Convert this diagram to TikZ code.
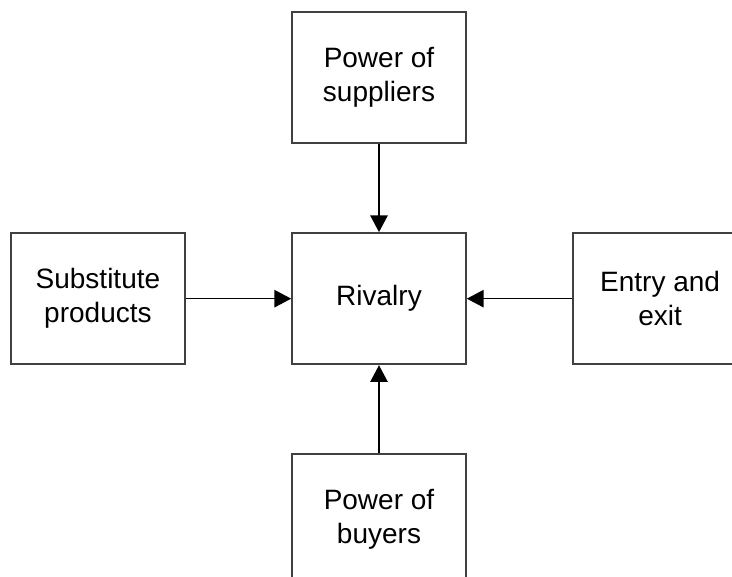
\documentclass[tikz,border=0pt]{standalone}
\usepackage{fontspec}
\setmainfont{Liberation Sans}
\usetikzlibrary{positioning, arrows.meta}

\tikzset{
  force/.style={rectangle, draw=black!75, line width=1.3pt, minimum width=130.5pt,
    minimum height=98.5pt, align=center, font=\fontsize{21}{25.5}\selectfont},
  push/.style={-{Triangle[length=12.5pt,width=13pt]}, line width=1pt}
}

\begin{document}
\begin{tikzpicture}[node distance=66pt and 79pt]
  \useasboundingbox (0,0) rectangle (549pt,432pt);

  \node[force] (rivalry) at (284.25pt,208pt) {Rivalry};
  \node[force, above=of rivalry] (suppliers node) {Power of\\suppliers};
  \node[force, below=of rivalry] (buyers node) {Power of\\buyers};
  \node[force, left=of rivalry] (substitutes node) {Substitute\\products};
  \node[force, right=of rivalry] (entry node) {Entry and\\exit};

  \draw[push] (suppliers node) -- (rivalry);
  \draw[push] (buyers node) -- (rivalry);
  \draw[push] (substitutes node) -- (rivalry);
  \draw[push] (entry node) -- (rivalry);

\end{tikzpicture}
\end{document}
